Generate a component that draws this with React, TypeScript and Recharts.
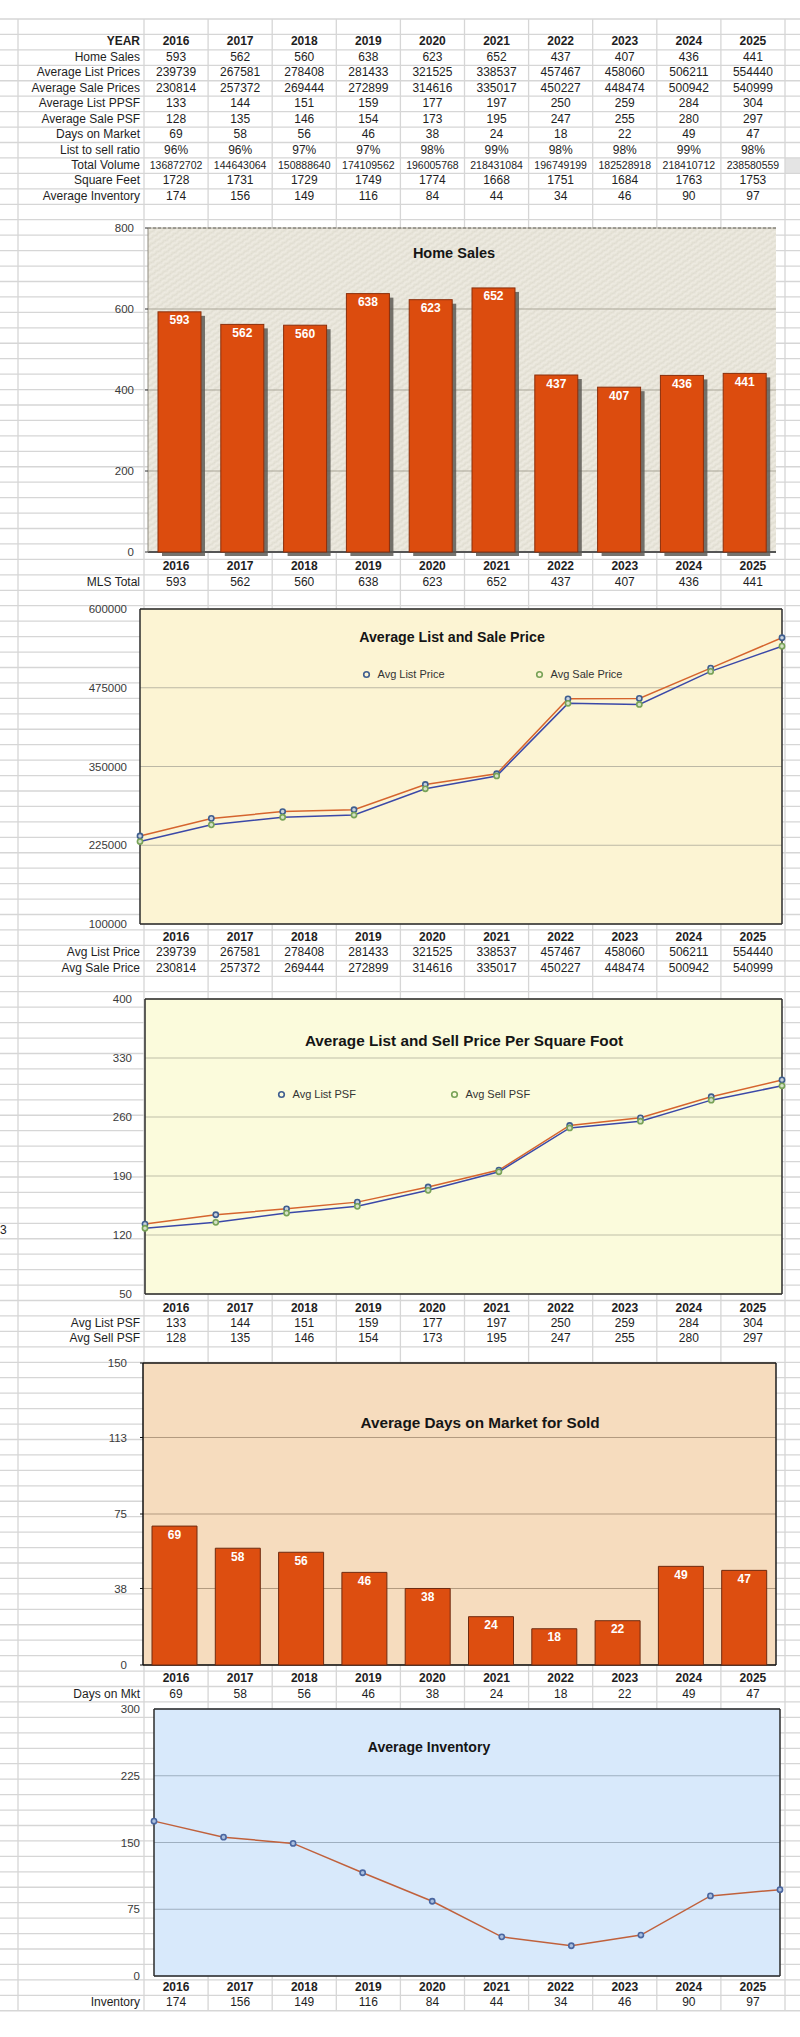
import React from 'react';
import {
  BarChart,
  Bar,
  LineChart,
  Line,
  XAxis,
  YAxis,
  CartesianGrid,
  LabelList,
  Legend,
} from 'recharts';

// ---- data ----
const years = ['2016', '2017', '2018', '2019', '2020', '2021', '2022', '2023', '2024', '2025'];
const homeSales = [593, 562, 560, 638, 623, 652, 437, 407, 436, 441];
const avgListPrice = [239739, 267581, 278408, 281433, 321525, 338537, 457467, 458060, 506211, 554440];
const avgSalePrice = [230814, 257372, 269444, 272899, 314616, 335017, 450227, 448474, 500942, 540999];
const avgListPsf = [133, 144, 151, 159, 177, 197, 250, 259, 284, 304];
const avgSalePsf = [128, 135, 146, 154, 173, 195, 247, 255, 280, 297];
const daysOnMarket = [69, 58, 56, 46, 38, 24, 18, 22, 49, 47];
const listToSell = ['96%', '96%', '97%', '97%', '98%', '99%', '98%', '98%', '99%', '98%'];
const totalVolume = [136872702, 144643064, 150888640, 174109562, 196005768, 218431084, 196749199, 182528918, 218410712, 238580559];
const squareFeet = [1728, 1731, 1729, 1749, 1774, 1668, 1751, 1684, 1763, 1753];
const avgInventory = [174, 156, 149, 116, 84, 44, 34, 46, 90, 97];

const salesTicks = [0, 200, 400, 600, 800];
const priceTicks = [100000, 225000, 350000, 475000, 600000];
const psfTicks = [50, 120, 190, 260, 330, 400];
const domTicks = [0, 38, 75, 113, 150];
const invTicks = [0, 75, 150, 225, 300];

const salesData = years.map((year, i) => ({ year, sales: homeSales[i] }));
const priceData = years.map((year, i) => ({ year, list: avgListPrice[i], sale: avgSalePrice[i] }));
const psfData = years.map((year, i) => ({ year, list: avgListPsf[i], sale: avgSalePsf[i] }));
const domData = years.map((year, i) => ({ year, days: daysOnMarket[i] }));
const invData = years.map((year, i) => ({ year, inventory: avgInventory[i] }));

// ---- sheet layout ----
const FONT = '"Liberation Sans", Arial, Helvetica, sans-serif';
const PAGE_W = 800;
const PAGE_H = 2037;
const ROW_TOP = 19;
const ROW_H = 15.44;
const ROW_COUNT = 129;
const LABEL_LEFT = 18;
const COL0 = 144;
const COL_W = 64.1;

const rowTop = (i: number) => ROW_TOP + i * ROW_H;

type Plot = { x1: number; x2: number; y1: number; y2: number };
const PAD = 20;
const frame = (p: Plot) => ({
  top: p.y1 - PAD,
  width: PAGE_W,
  height: p.y2 - p.y1 + PAD * 2,
  margin: { top: PAD, right: PAGE_W - p.x2, bottom: PAD, left: 0 },
});

const salesPlot: Plot = { x1: 148, x2: 776, y1: 228, y2: 552 };
const pricePlot: Plot = { x1: 140, x2: 782, y1: 609, y2: 924 };
const psfPlot: Plot = { x1: 145, x2: 782, y1: 999, y2: 1294 };
const domPlot: Plot = { x1: 143, x2: 776, y1: 1363, y2: 1665 };
const invPlot: Plot = { x1: 154, x2: 780, y1: 1709, y2: 1976 };

const tickStyle = { fontSize: 11.5, fill: '#3a3a3a' };

const edgesY = ({ offset }: any) => [offset.top, offset.top + offset.height];
const edgesX = ({ offset }: any) => [offset.left, offset.left + offset.width];
const topEdge = ({ offset }: any) => [offset.top];
const bottomEdge = ({ offset }: any) => [offset.top + offset.height];
const rightEdge = ({ offset }: any) => [offset.left + offset.width];

const SheetGrid = () => {
  const cols = [LABEL_LEFT, ...Array.from({ length: 11 }, (_, k) => COL0 + k * COL_W)];
  return (
    <svg width={PAGE_W} height={PAGE_H} style={{ position: 'absolute', left: 0, top: 0 }}>
      <rect x={COL0 + 10 * COL_W} y={rowTop(9)} width={20} height={ROW_H} fill="#e4e4e4" />
      {Array.from({ length: ROW_COUNT + 1 }, (_, i) => (
        <line key={`r${i}`} x1={0} x2={PAGE_W} y1={rowTop(i)} y2={rowTop(i)} stroke="#d6d6d6" strokeWidth={1.3} />
      ))}
      {cols.map((x, k) => (
        <line key={`c${k}`} x1={x} x2={x} y1={rowTop(0)} y2={rowTop(ROW_COUNT)} stroke="#d6d6d6" strokeWidth={1.3} />
      ))}
    </svg>
  );
};

const RowLabel = ({ row, text, bold }: { row: number; text: string; bold?: boolean }) => (
  <div
    style={{
      position: 'absolute',
      left: LABEL_LEFT,
      width: COL0 - LABEL_LEFT - 4,
      top: rowTop(row),
      height: ROW_H,
      lineHeight: `${ROW_H}px`,
      textAlign: 'right',
      fontSize: 12,
      fontWeight: bold ? 'bold' : 'normal',
      whiteSpace: 'nowrap',
    }}
  >
    {text}
  </div>
);

const SheetRow = ({
  row,
  label,
  values,
  bold,
  size = 12,
}: {
  row: number;
  label: string;
  values: (string | number)[];
  bold?: boolean;
  size?: number;
}) => (
  <>
    {label && <RowLabel row={row} text={label} bold={bold} />}
    {values.map((v, k) => (
      <div
        key={k}
        style={{
          position: 'absolute',
          left: COL0 + k * COL_W,
          width: COL_W,
          top: rowTop(row),
          height: ROW_H,
          lineHeight: `${ROW_H}px`,
          textAlign: 'center',
          fontSize: size,
          fontWeight: bold ? 'bold' : 'normal',
          whiteSpace: 'nowrap',
        }}
      >
        {v}
      </div>
    ))}
  </>
);

const Title = ({ text, x, y, size }: { text: string; x: number; y: number; size: number }) => (
  <div
    style={{
      position: 'absolute',
      left: x - 300,
      width: 600,
      top: y - 10,
      lineHeight: '20px',
      textAlign: 'center',
      fontWeight: 'bold',
      fontSize: size,
      color: '#151515',
      pointerEvents: 'none',
    }}
  >
    {text}
  </div>
);

const ShadowBar = (props: any) => {
  const { x, y, width, height } = props;
  if (!height) return null;
  return (
    <g>
      <rect x={x + 4} y={y + 4} width={width} height={height} fill="#5d5a55" opacity={0.85} />
      <rect x={x} y={y} width={width} height={height} fill="#DC4C0E" stroke="#8a2e0b" strokeWidth={1} />
    </g>
  );
};

const dotColors: Record<string, string> = { list: '#3f5e8f', sale: '#77a257' };

const legendContent = (props: any) => (
  <div style={{ display: 'flex', fontSize: 11, color: '#333', lineHeight: '14px' }}>
    {(props.payload || []).map((entry: any) => (
      <div key={entry.dataKey} style={{ display: 'flex', alignItems: 'center', width: 173 }}>
        <svg width={9} height={9} style={{ marginRight: 7 }}>
          <circle cx={4.5} cy={4.5} r={2.8} fill="none" stroke={dotColors[entry.dataKey]} strokeWidth={1.6} />
        </svg>
        {entry.value}
      </div>
    ))}
  </div>
);

const SalesChart = () => {
  const f = frame(salesPlot);
  return (
    <div style={{ position: 'absolute', left: 0, top: f.top }}>
      <BarChart width={f.width} height={f.height} data={salesData} margin={f.margin} barSize={43}>
        <defs>
          <pattern id="paper" width="6" height="5" patternUnits="userSpaceOnUse" patternTransform="rotate(-35)">
            <rect width="6" height="5" fill="#e8e5da" />
            <path d="M0 1.5 Q1.5 0.4 3 1.5 T6 1.5" stroke="#d9d5c8" strokeWidth="0.7" fill="none" />
            <path d="M0 3.8 Q1.5 2.7 3 3.8 T6 3.8" stroke="#f3f1ea" strokeWidth="0.7" fill="none" />
          </pattern>
        </defs>
        <CartesianGrid vertical={false} fill="url(#paper)" stroke="#a9a597" />
        <CartesianGrid vertical={false} stroke="#6d6a62" strokeDasharray="3 2" horizontalCoordinatesGenerator={topEdge} />
        <XAxis dataKey="year" hide />
        <YAxis
          width={salesPlot.x1}
          domain={[0, 800]}
          ticks={salesTicks}
          axisLine={{ stroke: '#8e8a7e' }}
          tickLine={{ stroke: '#333' }}
          tickSize={3}
          tickMargin={11}
          tick={tickStyle}
        />
        <Bar dataKey="sales" shape={ShadowBar} isAnimationActive={false}>
          <LabelList dataKey="sales" position="insideTop" offset={4} fill="#fff" fontSize={12} fontWeight="bold" />
        </Bar>
        <CartesianGrid vertical={false} stroke="#555" strokeWidth={2} horizontalCoordinatesGenerator={bottomEdge} />
      </BarChart>
    </div>
  );
};

const PriceChart = () => {
  const f = frame(pricePlot);
  return (
    <div style={{ position: 'absolute', left: 0, top: f.top }}>
      <LineChart width={f.width} height={f.height} data={priceData} margin={f.margin}>
        <CartesianGrid vertical={false} fill="#fcf4d3" stroke="#bcb8a5" />
        <CartesianGrid stroke="#2b2b2b" strokeWidth={1.5} horizontalCoordinatesGenerator={edgesY} verticalCoordinatesGenerator={edgesX} />
        <XAxis dataKey="year" hide />
        <YAxis
          width={pricePlot.x1}
          domain={[100000, 600000]}
          ticks={priceTicks}
          axisLine={false}
          tickLine={false}
          tickSize={0}
          tickMargin={13}
          tick={tickStyle}
        />
        <Legend
          layout="horizontal"
          verticalAlign="middle"
          align="center"
          content={legendContent}
          wrapperStyle={{ left: 361.5, top: 78, width: 360 }}
        />
        <Line
          dataKey="list"
          name="Avg List Price"
          stroke="#d5642e"
          strokeWidth={1.5}
          dot={{ r: 2.6, stroke: dotColors.list, strokeWidth: 1.6, fill: '#c9d2dc' }}
          isAnimationActive={false}
        />
        <Line
          dataKey="sale"
          name="Avg Sale Price"
          stroke="#3b48a8"
          strokeWidth={1.5}
          dot={{ r: 2.6, stroke: dotColors.sale, strokeWidth: 1.6, fill: '#d5e2c6' }}
          isAnimationActive={false}
        />
      </LineChart>
    </div>
  );
};

const PsfChart = () => {
  const f = frame(psfPlot);
  return (
    <div style={{ position: 'absolute', left: 0, top: f.top }}>
      <LineChart width={f.width} height={f.height} data={psfData} margin={f.margin}>
        <CartesianGrid vertical={false} fill="#fbfbdc" stroke="#bfbfa8" />
        <CartesianGrid stroke="#2b2b2b" strokeWidth={1.5} horizontalCoordinatesGenerator={edgesY} verticalCoordinatesGenerator={edgesX} />
        <XAxis dataKey="year" hide />
        <YAxis
          width={psfPlot.x1}
          domain={[50, 400]}
          ticks={psfTicks}
          axisLine={false}
          tickLine={false}
          tickSize={0}
          tickMargin={13}
          tick={tickStyle}
        />
        <Legend
          layout="horizontal"
          verticalAlign="middle"
          align="center"
          content={legendContent}
          wrapperStyle={{ left: 276.5, top: 108, width: 360 }}
        />
        <Line
          dataKey="list"
          name="Avg List PSF"
          stroke="#d5642e"
          strokeWidth={1.5}
          dot={{ r: 2.6, stroke: dotColors.list, strokeWidth: 1.6, fill: '#c9d2dc' }}
          isAnimationActive={false}
        />
        <Line
          dataKey="sale"
          name="Avg Sell PSF"
          stroke="#3b48a8"
          strokeWidth={1.5}
          dot={{ r: 2.6, stroke: dotColors.sale, strokeWidth: 1.6, fill: '#d5e2c6' }}
          isAnimationActive={false}
        />
      </LineChart>
    </div>
  );
};

const DomChart = () => {
  const f = frame(domPlot);
  return (
    <div style={{ position: 'absolute', left: 0, top: f.top }}>
      <BarChart width={f.width} height={f.height} data={domData} margin={f.margin} barSize={45}>
        <CartesianGrid vertical={false} fill="#f6dcbe" stroke="#b39a80" />
        <CartesianGrid stroke="#1e1e1e" strokeWidth={1.5} horizontalCoordinatesGenerator={topEdge} verticalCoordinatesGenerator={rightEdge} />
        <XAxis dataKey="year" hide />
        <YAxis
          width={domPlot.x1}
          domain={[0, 150]}
          ticks={domTicks}
          axisLine={{ stroke: '#111', strokeWidth: 1.5 }}
          tickLine={{ stroke: '#111' }}
          tickSize={3}
          tickMargin={13}
          tick={tickStyle}
        />
        <Bar dataKey="days" fill="#dd4e10" stroke="#6e2b10" strokeWidth={1} isAnimationActive={false}>
          <LabelList dataKey="days" position="insideTop" offset={4} fill="#fff" fontSize={12} fontWeight="bold" />
        </Bar>
        <CartesianGrid vertical={false} stroke="#111" strokeWidth={1.5} horizontalCoordinatesGenerator={bottomEdge} />
      </BarChart>
    </div>
  );
};

const InventoryChart = () => {
  const f = frame(invPlot);
  return (
    <div style={{ position: 'absolute', left: 0, top: f.top }}>
      <LineChart width={f.width} height={f.height} data={invData} margin={f.margin}>
        <CartesianGrid vertical={false} fill="#d8e9fb" stroke="#9eafc0" />
        <CartesianGrid stroke="#2b2b2b" strokeWidth={1.5} horizontalCoordinatesGenerator={edgesY} verticalCoordinatesGenerator={edgesX} />
        <XAxis dataKey="year" hide />
        <YAxis
          width={invPlot.x1}
          domain={[0, 300]}
          ticks={invTicks}
          axisLine={false}
          tickLine={false}
          tickSize={0}
          tickMargin={14}
          tick={tickStyle}
        />
        <Line
          dataKey="inventory"
          name="Inventory"
          stroke="#c0613c"
          strokeWidth={1.5}
          dot={{ r: 2.6, stroke: '#4a66a0', strokeWidth: 1.6, fill: '#a9bfdf' }}
          isAnimationActive={false}
        />
      </LineChart>
    </div>
  );
};

export default function App() {
  return (
    <div
      style={{
        position: 'absolute',
        left: 0,
        top: 0,
        width: PAGE_W,
        height: PAGE_H,
        background: '#fff',
        fontFamily: FONT,
        color: '#1e1e1e',
        overflow: 'hidden',
      }}
    >
      <SheetGrid />

      <SheetRow row={1} label="YEAR" values={years} bold />
      <SheetRow row={2} label="Home Sales" values={homeSales} />
      <SheetRow row={3} label="Average List Prices" values={avgListPrice} />
      <SheetRow row={4} label="Average Sale Prices" values={avgSalePrice} />
      <SheetRow row={5} label="Average List PPSF" values={avgListPsf} />
      <SheetRow row={6} label="Average Sale PSF" values={avgSalePsf} />
      <SheetRow row={7} label="Days on Market" values={daysOnMarket} />
      <SheetRow row={8} label="List to sell ratio" values={listToSell} />
      <SheetRow row={9} label="Total Volume" values={totalVolume} size={10.5} />
      <SheetRow row={10} label="Square Feet" values={squareFeet} />
      <SheetRow row={11} label="Average Inventory" values={avgInventory} />

      <SalesChart />
      <Title text="Home Sales" x={454} y={253} size={14.5} />
      <SheetRow row={35} label="" values={years} bold />
      <SheetRow row={36} label="MLS Total" values={homeSales} />

      <PriceChart />
      <Title text="Average List and Sale Price" x={452} y={637} size={14.2} />
      <SheetRow row={59} label="" values={years} bold />
      <SheetRow row={60} label="Avg List Price" values={avgListPrice} />
      <SheetRow row={61} label="Avg Sale Price" values={avgSalePrice} />

      <PsfChart />
      <Title text="Average List and Sell Price Per Square Foot" x={464} y={1041} size={15.3} />
      <SheetRow row={83} label="" values={years} bold />
      <SheetRow row={84} label="Avg List PSF" values={avgListPsf} />
      <SheetRow row={85} label="Avg Sell PSF" values={avgSalePsf} />
      <div style={{ position: 'absolute', left: 0, top: rowTop(78), lineHeight: `${ROW_H}px`, fontSize: 12 }}>3</div>

      <DomChart />
      <Title text="Average Days on Market for Sold" x={480} y={1423} size={15.3} />
      <SheetRow row={107} label="" values={years} bold />
      <SheetRow row={108} label="Days on Mkt" values={daysOnMarket} />

      <InventoryChart />
      <Title text="Average Inventory" x={429} y={1747} size={14.1} />
      <SheetRow row={127} label="" values={years} bold />
      <SheetRow row={128} label="Inventory" values={avgInventory} />
    </div>
  );
}
